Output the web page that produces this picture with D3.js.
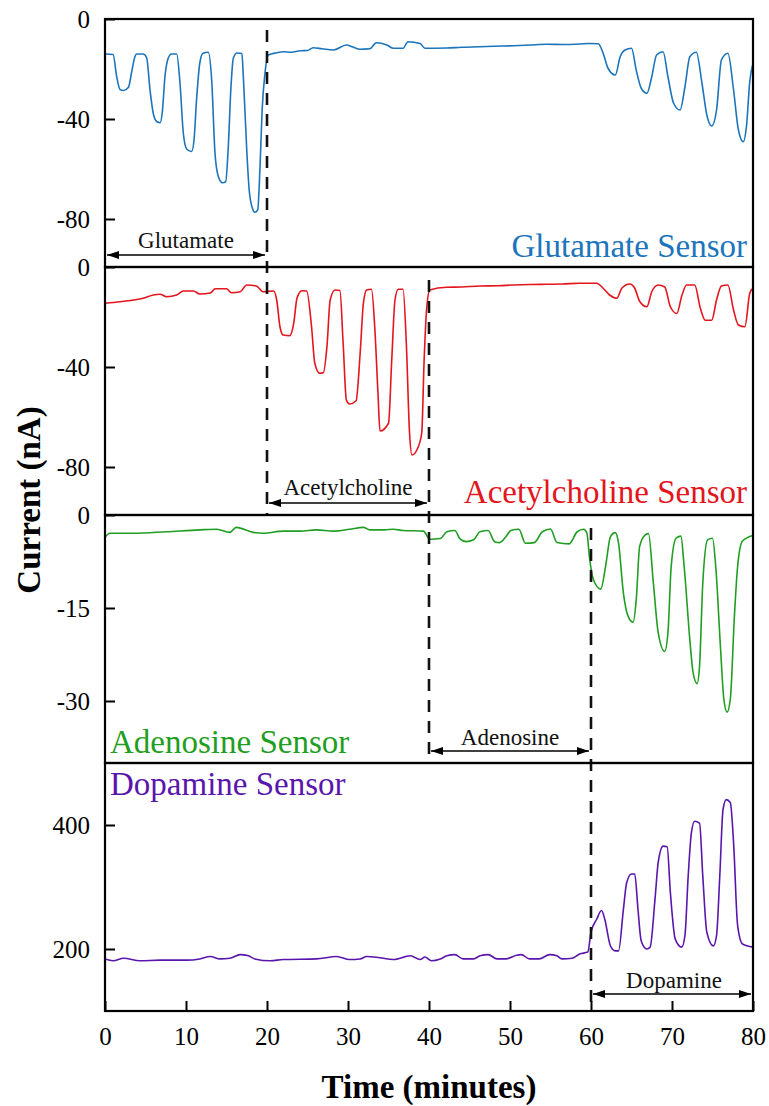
<!DOCTYPE html>
<html>
<head>
<meta charset="utf-8">
<script src="https://cdn.jsdelivr.net/npm/d3@7/dist/d3.min.js"></script>
<style>
  html, body { margin: 0; padding: 0; background: #fff; }
  svg { display: block; }
  text { font-family: "Liberation Serif", "Times New Roman", serif; }
</style>
</head>
<body>
<svg id="chart" width="769" height="1106"></svg>
<script>
// ---- Data: sensor current traces as [time (min), current (nA)] ----
const glutamateTrace = [
  [0,-14],[1.0,-14.2],[1.44,-23],[1.85,-28.2],[2.3,-28.6],[2.9,-27.3],[3.3,-21],[3.7,-15],[3.9,-14],[4.7,-14],
  [5.14,-15.5],[5.56,-28.4],[5.96,-37.8],[6.38,-41],[6.8,-41.5],[7.07,-37.4],[7.4,-23.1],[7.8,-15.7],[8.2,-14],[8.85,-14],
  [9.26,-25.7],[9.67,-45.7],[10.1,-52.1],[10.7,-53],[10.99,-48.4],[11.3,-32.4],[11.7,-17.7],[12.1,-13.7],[12.75,-13.3],
  [13.17,-24.4],[13.58,-53.7],[14.0,-63.1],[14.5,-65.5],[14.9,-65.1],[15.2,-52.4],[15.56,-26.7],[15.84,-15.7],[16.3,-13.6],[16.9,-13.8],
  [17.08,-23.1],[17.5,-52.4],[17.8,-68.4],[18.2,-75.7],[18.5,-77.3],[18.85,-76.4],[19.14,-59],[19.4,-36.4],[19.75,-21.7],[20.16,-14.4],
  [21.2,-13.5],[22.0,-13.1],[23.0,-13.3],[24.1,-12.7],[25.0,-12.6],[25.7,-11.5],[26.8,-11.9],[28.2,-12.4],[29.8,-10.4],[30.6,-11.2],
  [31.5,-12.1],[32.7,-11.9],[33.5,-9.5],[34.8,-10.4],[35.6,-11.7],[36.8,-11.7],[37.4,-9.1],[38.9,-9.8],[39.5,-11.7],[42.2,-11.6],
  [44.0,-11.3],[46.3,-11.1],[48.0,-10.9],[50.4,-10.7],[52.5,-10.4],[54.5,-10.1],[56.5,-10.2],[58.6,-10.0],[59.7,-9.8],[60.9,-9.9],
  [61.5,-13.7],[62.1,-19.7],[63.0,-22.4],[63.6,-15.1],[64.2,-12.4],[65.0,-11.7],[65.6,-20.7],[66.2,-27.7],[66.9,-29.7],[67.5,-23.1],
  [68.1,-14.4],[68.9,-13.1],[69.5,-23.1],[70.2,-33.7],[71.0,-36.4],[71.6,-27.1],[72.2,-15.1],[73.0,-13.3],[73.7,-25.7],[74.3,-38.4],
  [74.9,-42.8],[75.5,-36.4],[76.1,-16.4],[76.9,-13.7],[77.6,-28.4],[78.2,-44.4],[78.8,-49.1],[79.2,-42.7],[79.6,-25.1],[80,-17.7]
];

const acetylcholineTrace = [
  [0,-14.5],[1.85,-13.9],[3.5,-13.2],[4.7,-12.5],[5.96,-11.2],[6.8,-10.9],[7.6,-11.9],[8.85,-11.2],[9.67,-9.6],[10.9,-9.6],
  [11.7,-10.8],[13.0,-10.4],[13.6,-8.7],[15.0,-8.7],[15.6,-10.3],[16.7,-9.9],[17.5,-7.2],[18.7,-7.6],[19.5,-9.9],[20.8,-9.6],
  [21.2,-13.2],[21.6,-23.9],[22.0,-27.2],[22.8,-27.5],[23.3,-22.5],[23.7,-12.5],[24.3,-9.5],[24.9,-9.6],
  [25.5,-23.9],[25.9,-38.5],[26.5,-42.5],[26.95,-42.3],[27.4,-31.9],[27.8,-13.2],[28.4,-9.2],[29.0,-9.4],
  [29.4,-30.5],[29.8,-53.2],[30.2,-54.8],[31.0,-53.5],[31.5,-34.5],[31.9,-14.5],[32.3,-9.2],[32.9,-8.9],
  [33.3,-23.9],[33.7,-50.5],[33.95,-65.6],[35.0,-62.5],[35.4,-37.2],[35.8,-13.2],[36.2,-8.9],[36.8,-8.9],
  [37.2,-30.5],[37.6,-66.5],[37.9,-75.2],[38.5,-73.2],[39.1,-66.5],[39.4,-37.2],[39.7,-17.2],[40.1,-9.2],
  [42.2,-8.1],[44.0,-8.0],[46.3,-7.6],[48.5,-7.5],[50.4,-7.2],[52.5,-7.0],[54.5,-6.9],[56.5,-6.8],[58.6,-6.5],[60.7,-6.5],
  [61.5,-8.5],[62.3,-11.2],[63.2,-12.5],[63.8,-8.5],[64.8,-6.8],[65.4,-8.5],[66.0,-13.7],[66.9,-15.9],[67.5,-9.9],[68.3,-7.2],
  [69.1,-8.0],[69.8,-15.9],[70.6,-18.6],[71.2,-11.6],[71.8,-7.2],[72.8,-7.2],[73.5,-16.5],[74.1,-21.3],[74.9,-21.3],[75.5,-13.2],
  [76.1,-7.6],[76.9,-7.2],[77.6,-17.2],[78.2,-23.2],[79.0,-23.9],[79.6,-10.5],[80,-8.5]
];

const adenosineTrace = [
  [0,-3.6],[0.6,-2.95],[3.5,-2.95],[7.6,-2.7],[11.7,-2.4],[13.8,-2.3],[15.4,-2.8],[16.2,-2.0],[18.3,-2.8],[19.5,-2.95],
  [22.0,-2.6],[24.1,-2.6],[26.1,-2.4],[28.2,-2.6],[30.2,-2.3],[31.9,-2.0],[32.7,-2.4],[34.5,-2.4],[35.6,-2.3],[36.8,-2.5],
  [39.3,-2.6],[40.1,-3.9],[41.4,-3.8],[42.2,-2.7],[43.2,-2.5],[43.8,-3.8],[44.6,-4.3],[45.5,-4.0],[46.3,-2.7],[47.3,-2.5],
  [48.1,-4.3],[48.7,-4.45],[49.5,-3.5],[50.1,-2.5],[51.1,-2.3],[51.9,-4.55],[53.0,-4.45],[54.0,-2.7],[55.0,-2.25],[55.8,-4.45],
  [57.3,-4.66],[58.3,-2.7],[59.1,-2.3],[59.5,-2.95],[59.8,-6.7],[60.3,-10.45],[61.2,-11.95],[61.8,-8.3],[62.4,-3.5],[63.0,-2.84],
  [63.4,-4.55],[64.0,-12.6],[64.6,-16.4],[65.2,-17.3],[65.6,-13.4],[66.0,-5.1],[66.7,-3.2],[67.1,-3.0],[67.7,-11],[68.3,-19],
  [69.1,-22],[69.5,-19],[69.9,-8.3],[70.5,-3.75],[71.1,-3.4],[71.5,-8.3],[72.2,-20.1],[72.6,-25.4],[73.1,-27.2],[73.4,-24.4],
  [73.8,-11],[74.4,-4.0],[75.0,-3.75],[75.4,-8.3],[76.0,-21.7],[76.4,-29.7],[76.8,-31.8],[77.2,-29.7],[77.7,-16.4],[78.1,-8.3],
  [78.7,-4.2],[80,-3.3]
];

const dopamineTrace = [
  [0,184],[1,181],[2.3,185],[4.3,181],[6.8,182],[10.1,182],[11.7,184],[13,188],[14.2,184],[15.4,185],
  [16.7,191],[17.7,189],[18.5,184],[20.4,181],[22,183],[26.1,184],[28.6,188],[30.2,183],[31.5,184],[32.3,188],
  [33.9,186],[35.6,183],[37.7,189],[38.9,183],[39.5,187],[40.3,181],[41.4,184],[42.2,189],[43.2,191],[44.2,184],
  [45.5,184],[46.3,189],[47.3,191],[48.4,184],[49.5,184],[50.8,190],[51.4,191],[52.4,184],[53.6,184],[54.9,191],
  [55.8,189],[56.4,184],[57.7,185],[58.6,192],[59.6,195],[60.0,227],[60.7,248],[61.3,262],[61.7,248],[62.4,205],
  [63.0,197],[63.4,197],[64.0,264],[64.4,307],[65.0,321],[65.4,321],[65.8,264],[66.2,213],[66.9,200],[67.3,203],
  [67.9,280],[68.3,340],[68.9,366],[69.4,365],[69.8,291],[70.4,216],[71.2,203],[71.6,222],[72.0,318],[72.4,388],
  [72.8,406],[73.4,403],[73.8,318],[74.3,227],[75.1,205],[75.5,222],[75.9,318],[76.3,425],[76.7,441],[77.2,436],
  [77.6,372],[78.1,238],[78.7,208],[80,203]
];

// ---- Axis ticks ----
const timeTicks = [0, 10, 20, 30, 40, 50, 60, 70, 80];
const glutamateTicks = [0, -40, -80];
const acetylcholineTicks = [0, -40, -80];
const adenosineTicks = [0, -15, -30];
const dopamineTicks = [200, 400];

// ---- Panel definitions ----
const sensorNames = ["Glutamate Sensor", "Acetylcholine Sensor", "Adenosine Sensor", "Dopamine Sensor"];
const sensorColors = ["#1c75bc", "#e3151d", "#1f9e22", "#5a16ac"];
const sensorTraces = [glutamateTrace, acetylcholineTrace, adenosineTrace, dopamineTrace];
const sensorTicks = [glutamateTicks, acetylcholineTicks, adenosineTicks, dopamineTicks];
const sensorDomains = [[-99.2, 0], [-99.2, 0], [-40, 0], [100, 500]];

// Injection windows: analyte name, start & end time
const analyteNames = ["Glutamate", "Acetylcholine", "Adenosine", "Dopamine"];
const analyteWindows = [[0, 20], [20, 40], [40, 60], [60, 80]];
const boundaryTimes = [20, 40, 60];

// ---- Layout ----
const svg = d3.select("#chart");
const W = 769, H = 1106;
const left = 105, right = 753;
const panelTop = 19, panelH = 248;

svg.append("rect").attr("width", W).attr("height", H).attr("fill", "#fff");

const x = d3.scaleLinear().domain([0, 80]).range([left, right]);

const panels = sensorNames.map((name, i) => {
  const y0 = panelTop + i * panelH;
  const y = d3.scaleLinear().domain(sensorDomains[i]).range([y0 + panelH, y0]);
  return { name, i, y0, y1: y0 + panelH, y };
});

// arrow head marker
const defs = svg.append("defs");
defs.append("marker")
  .attr("id", "arrowHead")
  .attr("viewBox", "0 0 12 8")
  .attr("refX", 12).attr("refY", 4)
  .attr("markerWidth", 12).attr("markerHeight", 8)
  .attr("markerUnits", "userSpaceOnUse")
  .attr("orient", "auto-start-reverse")
  .append("path").attr("d", "M0,0 L12,4 L0,8 Z").attr("fill", "#000");

panels.forEach(p => {
  defs.append("clipPath").attr("id", "clip" + p.i)
    .append("rect")
    .attr("x", left).attr("y", p.y0)
    .attr("width", right - left).attr("height", panelH);
});

const line = d3.line().curve(d3.curveMonotoneX);

panels.forEach(p => {
  const g = svg.append("g");

  // trace
  g.append("path")
    .datum(sensorTraces[p.i])
    .attr("clip-path", `url(#clip${p.i})`)
    .attr("fill", "none")
    .attr("stroke", sensorColors[p.i])
    .attr("stroke-width", 1.6)
    .attr("stroke-linejoin", "round")
    .attr("d", line.x(d => x(d[0])).y(d => p.y(d[1])));

  // y axis with inward ticks
  const yAxis = d3.axisLeft(p.y)
    .tickValues(sensorTicks[p.i])
    .tickSize(-10)
    .tickPadding(15)
    .tickFormat(d => String(d));
  const ya = g.append("g").attr("transform", `translate(${left},0)`).call(yAxis);
  ya.select(".domain").remove();
  ya.selectAll(".tick line").attr("stroke", "#000").attr("stroke-width", 2);
  ya.selectAll(".tick text")
    .attr("fill", "#000")
    .style("font-family", '"Liberation Serif", "Times New Roman", serif')
    .style("font-size", "25px");

  // sensor label
  const lbl = g.append("text")
    .text(p.name)
    .attr("fill", sensorColors[p.i])
    .style("font-size", "33px");
  if (p.i === 0) lbl.attr("x", 747).attr("y", 257).attr("text-anchor", "end");
  if (p.i === 1) lbl.attr("x", 747).attr("y", 503).attr("text-anchor", "end");
  if (p.i === 2) lbl.attr("x", 110).attr("y", 753);
  if (p.i === 3) lbl.attr("x", 110).attr("y", 795);
});

// bottom time axis with inward ticks
const xAxis = d3.axisBottom(x).tickValues(timeTicks).tickSize(-10).tickPadding(16)
  .tickFormat(d => String(d));
const xa = svg.append("g").attr("transform", `translate(0,${panels[3].y1})`).call(xAxis);
xa.select(".domain").remove();
xa.selectAll(".tick line").attr("stroke", "#000").attr("stroke-width", 2);
xa.selectAll(".tick text")
  .attr("fill", "#000")
  .style("font-family", '"Liberation Serif", "Times New Roman", serif')
  .style("font-size", "25px");

// dashed boundaries between injection windows, each spanning two panels
const dashTops = [30, 280, 528];
boundaryTimes.forEach((t, k) => {
  svg.append("line")
    .attr("x1", x(t)).attr("x2", x(t))
    .attr("y1", dashTops[k]).attr("y2", panels[k + 1].y1)
    .attr("stroke", "#111")
    .attr("stroke-width", 2.6)
    .attr("stroke-dasharray", "12,9");
});

// injection window arrows and labels
const arrowY = [255, 503, 751, 994];
const arrowTextY = [248, 495, 745, 988];
analyteNames.forEach((name, k) => {
  const [t0, t1] = analyteWindows[k];
  svg.append("line")
    .attr("x1", x(t0) + 2).attr("x2", x(t1) - 2)
    .attr("y1", arrowY[k]).attr("y2", arrowY[k])
    .attr("stroke", "#000").attr("stroke-width", 1.6)
    .attr("marker-start", "url(#arrowHead)")
    .attr("marker-end", "url(#arrowHead)");
  svg.append("text")
    .text(name)
    .attr("x", (x(t0) + x(t1)) / 2 + (k === 3 ? 2 : 0))
    .attr("y", arrowTextY[k])
    .attr("text-anchor", "middle")
    .attr("fill", "#111")
    .style("font-size", "23px");
});

// panel frames
panels.forEach(p => {
  svg.append("rect")
    .attr("x", left).attr("y", p.y0)
    .attr("width", right - left).attr("height", panelH)
    .attr("fill", "none").attr("stroke", "#000").attr("stroke-width", 2.2);
});

// axis titles
svg.append("text")
  .text("Time (minutes)")
  .attr("x", 429).attr("y", 1098)
  .attr("text-anchor", "middle")
  .style("font-size", "33px").style("font-weight", "bold");

svg.append("text")
  .text("Current (nA)")
  .attr("transform", "translate(40,500) rotate(-90)")
  .attr("text-anchor", "middle")
  .style("font-size", "33px").style("font-weight", "bold");
</script>
</body>
</html>
